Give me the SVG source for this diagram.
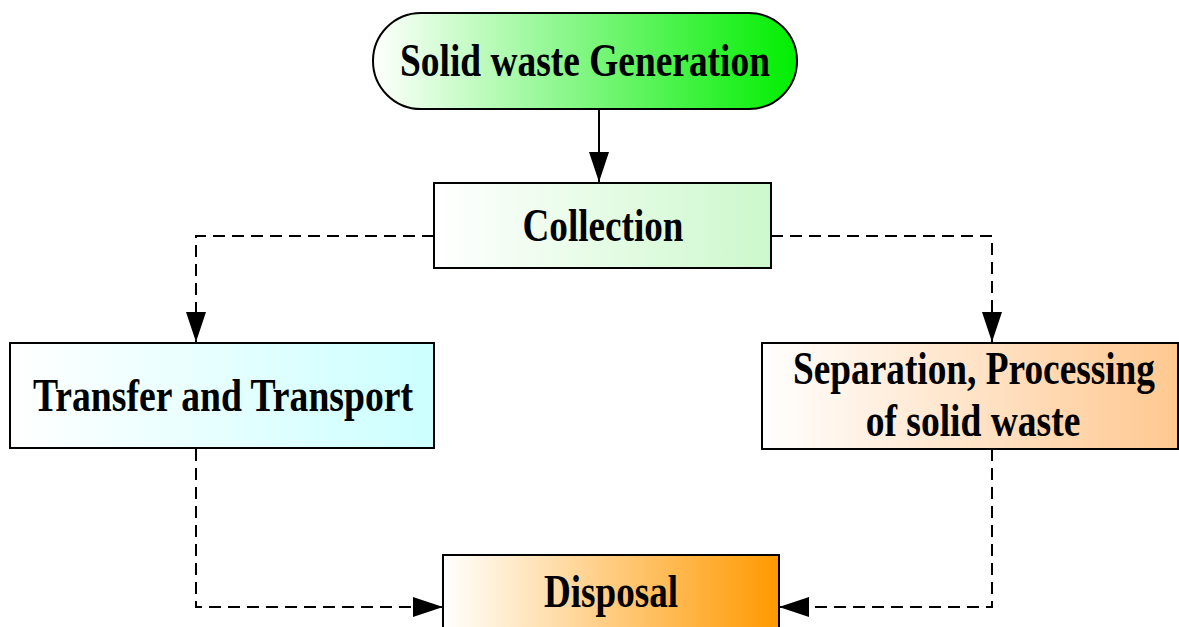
<svg xmlns="http://www.w3.org/2000/svg" width="1179" height="627" viewBox="0 0 1179 627">
<defs>
<linearGradient id="gGreen" x1="0" y1="0" x2="1" y2="0"><stop offset="0" stop-color="#ffffff"/><stop offset="1" stop-color="#00ee00"/></linearGradient>
<linearGradient id="gLight" x1="0" y1="0" x2="1" y2="0"><stop offset="0" stop-color="#ffffff"/><stop offset="1" stop-color="#ccf8cc"/></linearGradient>
<linearGradient id="gCyan" x1="0" y1="0" x2="1" y2="0"><stop offset="0" stop-color="#ffffff"/><stop offset="1" stop-color="#ccffff"/></linearGradient>
<linearGradient id="gPeach" x1="0" y1="0" x2="1" y2="0"><stop offset="0" stop-color="#ffffff"/><stop offset="1" stop-color="#ffc890"/></linearGradient>
<linearGradient id="gOrange" x1="0" y1="0" x2="1" y2="0"><stop offset="0" stop-color="#ffffff"/><stop offset="1" stop-color="#ff9900"/></linearGradient>
<marker id="arr" viewBox="0 0 30 20" refX="30" refY="10" markerWidth="30" markerHeight="20" markerUnits="userSpaceOnUse" orient="auto"><path d="M0,0 L30,10 L0,20 Z" fill="#000"/></marker>
</defs>
<style>
.box{stroke:#000;stroke-width:2}
.t{font-family:"Liberation Serif","Times New Roman",serif;font-weight:bold;font-size:46px;fill:#000;text-anchor:middle}
.c{fill:none;stroke:#000;stroke-width:2}
.d{stroke-dasharray:12 7}
</style>
<rect width="1179" height="627" fill="#fff"/>
<g id="connectors">
<path class="c" d="M599,109 V182" marker-end="url(#arr)"/>
<path class="c d" d="M434,236 H196 V342" marker-end="url(#arr)"/>
<path class="c d" d="M771,236 H992 V342" marker-end="url(#arr)"/>
<path class="c d" d="M196,449 V607 H443" marker-end="url(#arr)"/>
<path class="c d" d="M992,449 V607 H779" marker-end="url(#arr)"/>
</g>
<g id="generation">
<rect class="box" x="373" y="13" width="424" height="96" rx="48" ry="48" fill="url(#gGreen)"/>
<text class="t" x="585" y="76" textLength="370" lengthAdjust="spacingAndGlyphs">Solid waste Generation</text>
</g>
<g id="collection">
<rect class="box" x="434" y="183" width="337" height="85" fill="url(#gLight)"/>
<text class="t" x="603" y="241" textLength="161" lengthAdjust="spacingAndGlyphs">Collection</text>
</g>
<g id="transfer">
<rect class="box" x="10" y="343" width="424" height="105" fill="url(#gCyan)"/>
<text class="t" x="223" y="411" textLength="380" lengthAdjust="spacingAndGlyphs">Transfer and Transport</text>
</g>
<g id="separation">
<rect class="box" x="762" y="343" width="416" height="106" fill="url(#gPeach)"/>
<text class="t" transform="translate(974,384) scale(0.81,1)" x="0" y="0" textLength="447" lengthAdjust="spacingAndGlyphs">Separation, Processing</text>
<text class="t" transform="translate(973,436) scale(0.81,1)" x="0" y="0" textLength="265" lengthAdjust="spacingAndGlyphs">of solid waste</text>
</g>
<g id="disposal">
<rect class="box" x="443" y="555" width="336" height="80" fill="url(#gOrange)"/>
<text class="t" x="611" y="607" textLength="134" lengthAdjust="spacingAndGlyphs">Disposal</text>
</g>
</svg>
